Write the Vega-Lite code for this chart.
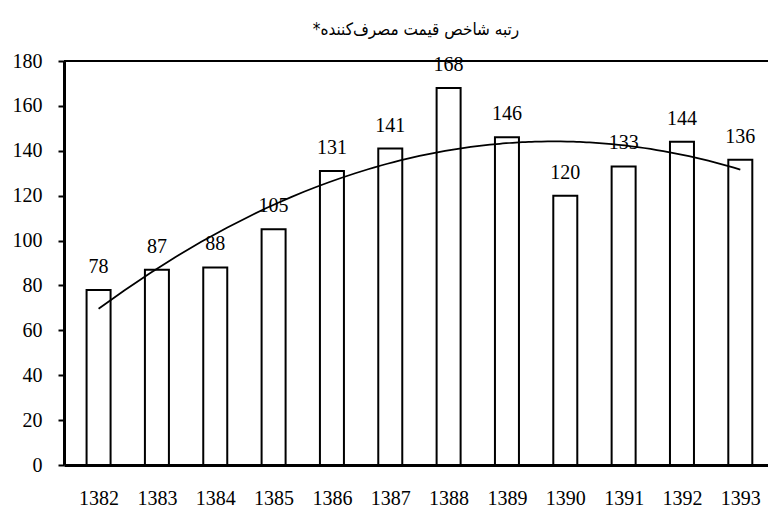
{
  "$schema": "https://vega.github.io/schema/vega-lite/v6.json",
  "autosize": {"type": "none"},
  "padding": {"left": 64, "top": 61, "right": 0, "bottom": 42},
  "width": 704,
  "height": 404,
  "background": "white",
  "config": {"view": {"stroke": null}},
  "title": {
    "text": "رتبه شاخص قیمت مصرف‌کننده*‏",
    "font": "DejaVu Sans Condensed, DejaVu Sans",
    "fontSize": 17,
    "fontWeight": "normal",
    "color": "black",
    "anchor": "middle",
    "offset": 12
  },
  "data": {
    "values": [
      {"year": 1382, "value": 78},
      {"year": 1383, "value": 87},
      {"year": 1384, "value": 88},
      {"year": 1385, "value": 105},
      {"year": 1386, "value": 131},
      {"year": 1387, "value": 141},
      {"year": 1388, "value": 168},
      {"year": 1389, "value": 146},
      {"year": 1390, "value": 120},
      {"year": 1391, "value": 133},
      {"year": 1392, "value": 144},
      {"year": 1393, "value": 136}
    ]
  },
  "encoding": {
    "x": {
      "field": "year",
      "type": "quantitative",
      "scale": {"domain": [1381.493, 1393.389], "nice": false, "zero": false},
      "axis": {
        "title": null,
        "values": [1382, 1383, 1384, 1385, 1386, 1387, 1388, 1389, 1390, 1391, 1392, 1393],
        "format": "d",
        "grid": false,
        "ticks": false,
        "tickSize": 0,
        "labelPadding": 23,
        "labelFont": "Liberation Serif",
        "labelFontSize": 20,
        "labelColor": "black",
        "labelFlush": false,
        "domainColor": "black",
        "domainWidth": 3
      }
    },
    "y": {
      "field": "value",
      "type": "quantitative",
      "scale": {"domain": [0, 180], "nice": false},
      "axis": {
        "title": null,
        "values": [0, 20, 40, 60, 80, 100, 120, 140, 160, 180],
        "grid": false,
        "tickColor": "black",
        "tickSize": 6,
        "tickWidth": 2,
        "labelPadding": 16,
        "labelFont": "Liberation Serif",
        "labelFontSize": 20,
        "labelColor": "black",
        "domainColor": "black",
        "domainWidth": 3
      }
    }
  },
  "layer": [
    {
      "mark": {"type": "bar", "width": 24, "fill": "white", "stroke": "black", "strokeWidth": 2}
    },
    {
      "mark": {"type": "text", "baseline": "alphabetic", "dy": -17, "font": "Liberation Serif", "fontSize": 20, "color": "black"},
      "encoding": {"text": {"field": "value", "type": "quantitative"}}
    },
    {
      "transform": [
        {"regression": "value", "on": "year", "method": "poly", "order": 2, "extent": [1382, 1393]}
      ],
      "mark": {"type": "line", "color": "black", "strokeWidth": 1.75}
    },
    {
      "mark": {"type": "rule", "color": "black", "strokeWidth": 2},
      "encoding": {"y": {"datum": 180}, "x": {"value": 0}, "x2": {"value": 704}}
    }
  ]
}
